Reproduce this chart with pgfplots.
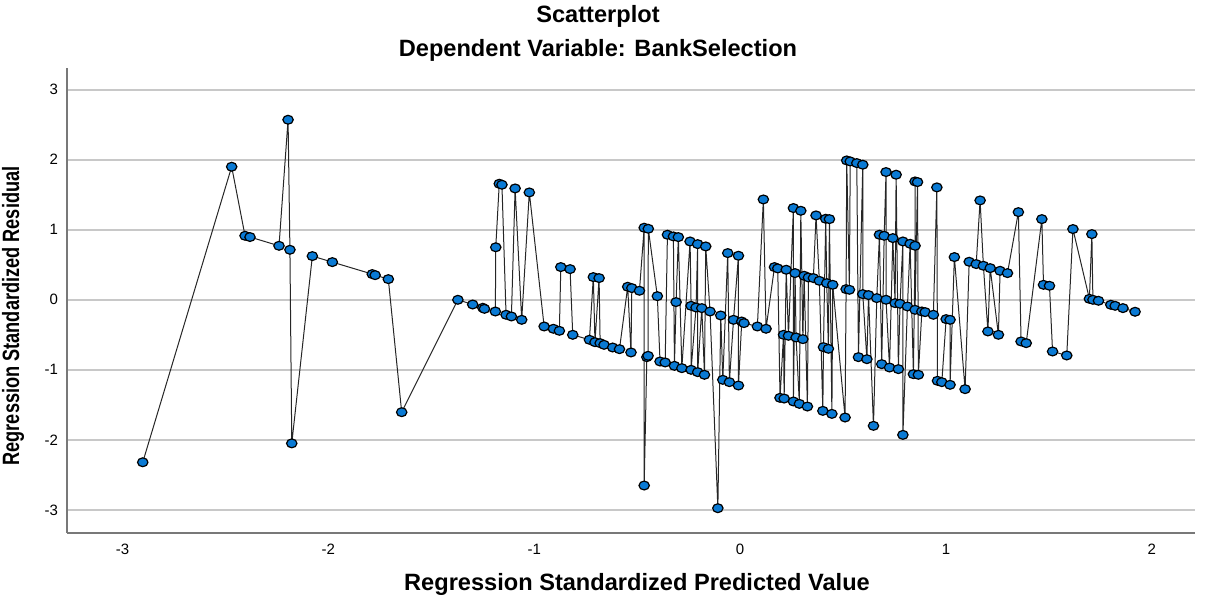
\documentclass[border=0pt]{standalone}
\usepackage{fontspec}
\setmainfont{Liberation Sans}
\usepackage{pgfplots}
\pgfplotsset{compat=1.18}
\definecolor{spssblue}{RGB}{10,122,212}
\definecolor{gridgray}{RGB}{200,200,200}
\definecolor{axgray}{RGB}{120,120,120}
\pgfplotstableread{
x y
-2.902 -2.32
-2.470 1.90
-2.405 0.914
-2.381 0.896
-2.240 0.771
-2.196 2.571
-2.187 0.714
-2.178 -2.05
-2.078 0.624
-1.981 0.538
-1.787 0.367
-1.773 0.352
-1.709 0.295
-1.644 -1.605
-1.371 0.0
-1.299 -0.067
-1.250 -0.114
-1.242 -0.129
-1.189 -0.167
-1.187 0.75
-1.170 1.657
-1.157 1.643
-1.137 -0.214
-1.111 -0.238
-1.093 1.59
-1.061 -0.286
-1.024 1.533
-0.952 -0.381
-0.907 -0.414
-0.878 -0.443
-0.871 0.467
-0.826 0.438
-0.813 -0.5
-0.732 -0.571
-0.713 0.324
-0.705 -0.605
-0.685 0.31
-0.680 -0.619
-0.661 -0.643
-0.619 -0.681
-0.586 -0.705
-0.546 0.186
-0.530 -0.752
-0.526 0.167
-0.489 0.129
-0.466 1.029
-0.466 -2.652
-0.453 -0.819
-0.447 -0.8
-0.446 1.014
-0.402 0.052
-0.389 -0.881
-0.364 -0.895
-0.353 0.929
-0.324 0.905
-0.319 -0.943
-0.311 -0.033
-0.300 0.895
-0.283 -0.976
-0.243 0.833
-0.238 -0.086
-0.238 -1.0
-0.214 -0.11
-0.206 0.795
-0.206 -1.033
-0.186 -0.119
-0.173 -1.071
-0.167 0.762
-0.146 -0.167
-0.108 -2.976
-0.094 -0.224
-0.084 -1.143
-0.060 0.667
-0.052 -1.176
-0.032 -0.286
-0.008 0.629
-0.008 -1.224
0.008 -0.31
0.019 -0.333
0.084 -0.381
0.113 1.433
0.126 -0.414
0.167 0.467
0.183 0.448
0.194 -1.4
0.211 -0.5
0.214 -1.41
0.224 0.429
0.235 -0.514
0.259 1.31
0.259 -1.452
0.267 0.381
0.272 -0.538
0.288 -1.486
0.295 1.271
0.305 -0.562
0.311 0.343
0.327 -1.524
0.332 0.319
0.356 0.31
0.369 1.205
0.385 0.271
0.402 -1.586
0.405 -0.676
0.416 1.157
0.421 0.238
0.429 -0.7
0.434 1.152
0.446 -1.629
0.450 0.214
0.510 -1.681
0.515 0.152
0.518 1.99
0.531 0.143
0.535 1.976
0.567 1.952
0.575 -0.819
0.596 1.929
0.596 0.081
0.616 -0.848
0.624 0.067
0.648 -1.8
0.664 0.024
0.677 0.929
0.688 -0.919
0.700 0.914
0.709 1.824
0.709 0.0
0.726 -0.967
0.742 0.881
0.753 -0.048
0.758 1.786
0.769 -0.99
0.777 -0.057
0.791 0.833
0.791 -1.929
0.813 -0.095
0.826 0.8
0.842 -1.062
0.850 0.771
0.850 1.69
0.850 -0.143
0.862 1.681
0.866 -1.071
0.883 -0.167
0.899 -0.176
0.939 -0.214
0.956 1.605
0.959 -1.157
0.980 -1.176
1.001 -0.276
1.020 -0.286
1.020 -1.214
1.041 0.610
1.093 -1.276
1.113 0.543
1.147 0.51
1.166 1.419
1.182 0.486
1.204 -0.452
1.215 0.452
1.255 -0.5
1.263 0.414
1.299 0.381
1.352 1.252
1.365 -0.595
1.390 -0.619
1.466 1.152
1.474 0.214
1.503 0.2
1.518 -0.738
1.587 -0.795
1.617 1.01
1.697 0.014
1.709 0.938
1.714 0.0
1.741 -0.014
1.801 -0.071
1.822 -0.086
1.860 -0.119
1.919 -0.171
}\resid
\begin{document}
\begin{tikzpicture}
\useasboundingbox (-33.5pt,-32pt) rectangle (571.5pt,266.5pt);
\begin{axis}[
  at={(0pt,0pt)}, anchor=south west,
  scale only axis, width=564pt, height=232.5pt,
  xmin=-3.27, xmax=2.21, ymin=-3.33, ymax=3.31,
  axis x line*=bottom, axis y line*=left,
  xtick={-3,-2,-1,0,1,2}, ytick={-3,-2,-1,0,1,2,3},
  ymajorgrids, grid style={gridgray, line width=0.8pt},
  major tick length=0pt,
  axis line style={axgray, line width=0.8pt},
  tick label style={font=\fontsize{7.5}{8.5}\selectfont, black},
  /pgf/number format/assume math mode=true,
  xticklabel style={yshift=-2pt},
  yticklabel style={xshift=-1pt},
  clip=false,
]
\addplot[black!85, line width=0.5pt, mark=*, mark size=2.6pt,
  mark options={fill=spssblue, draw=black, line width=0.6pt, yscale=0.85, solid}]
  table[x=x, y=y] {\resid};
\end{axis}
\node[font=\bfseries\fontsize{11.8}{13}\selectfont] at (265.5pt,258.5pt) {Scatterplot};
\node[font=\bfseries\fontsize{11.8}{13}\selectfont] at (265.5pt,241.5pt) {Dependent Variable: BankSelection};
\node[font=\bfseries\fontsize{11.8}{13}\selectfont] at (285pt,-25.5pt) {Regression Standardized Predicted Value};
\node[font=\bfseries\fontsize{11.8}{13}\selectfont, rotate=90] at (-27pt,108.5pt) {\scalebox{0.77}[1]{Regression Standardized Residual}};
\end{tikzpicture}
\end{document}
